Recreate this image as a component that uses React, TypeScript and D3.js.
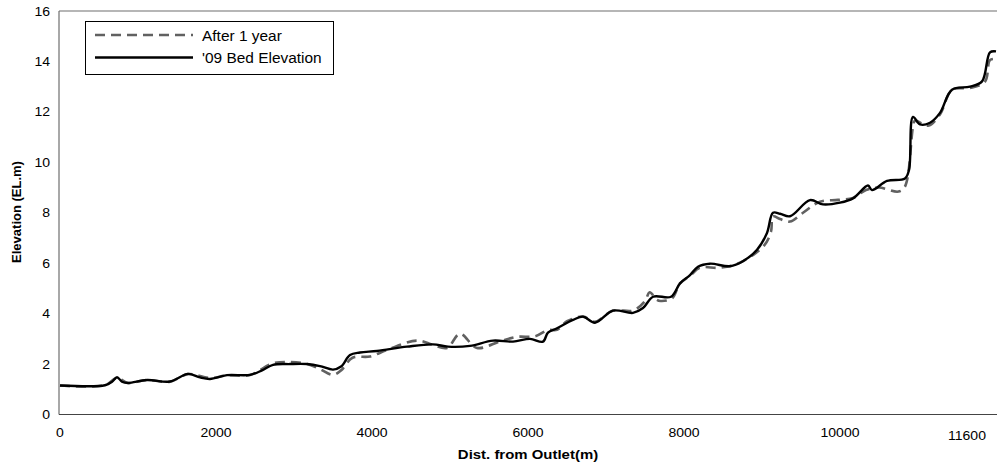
import React from "react";
import * as d3 from "d3";

const distBed = [0, 577, 667, 731, 795, 872, 1115, 1410, 1641, 1795, 1923, 2141, 2436, 2590, 2731, 2949, 3167, 3333, 3500, 3603, 3718, 3846, 4064, 4449, 4782, 4974, 5256, 5551, 5808, 6026, 6192, 6256, 6372, 6577, 6705, 6859, 7090, 7346, 7474, 7603, 7833, 7949, 8077, 8179, 8333, 8590, 8756, 8936, 9064, 9141, 9231, 9359, 9615, 9782, 10000, 10167, 10359, 10410, 10603, 10833, 10885, 10936, 11026, 11154, 11282, 11436, 11667, 11821, 11923, 12000];
const elevBed = [1.15, 1.16, 1.3, 1.48, 1.3, 1.25, 1.37, 1.31, 1.61, 1.47, 1.41, 1.56, 1.57, 1.75, 1.97, 2.0, 2.0, 1.92, 1.78, 1.9, 2.36, 2.46, 2.52, 2.69, 2.78, 2.69, 2.72, 2.93, 2.89, 3.0, 2.89, 3.25, 3.42, 3.75, 3.88, 3.64, 4.12, 4.03, 4.22, 4.67, 4.67, 5.2, 5.53, 5.86, 5.98, 5.88, 6.08, 6.53, 7.2, 8.0, 7.96, 7.86, 8.5, 8.33, 8.4, 8.57, 9.08, 8.9, 9.26, 9.36, 9.7, 11.8, 11.5, 11.57, 11.96, 12.88, 13.0, 13.21, 14.36, 14.4];

const distAfter = [0, 577, 731, 872, 1115, 1410, 1641, 1923, 2141, 2436, 2731, 2949, 3167, 3333, 3500, 3603, 3750, 3974, 4192, 4577, 4782, 4962, 5128, 5346, 5641, 5859, 6090, 6256, 6372, 6500, 6705, 6859, 7090, 7346, 7500, 7560, 7650, 7700, 7846, 7949, 8077, 8205, 8462, 8718, 9026, 9115, 9141, 9231, 9359, 9526, 9744, 9974, 10167, 10333, 10500, 10750, 10833, 10936, 10962, 11128, 11282, 11436, 11667, 11859, 11923, 12000];
const elevAfter = [1.15, 1.16, 1.45, 1.25, 1.37, 1.3, 1.6, 1.45, 1.55, 1.57, 2.03, 2.08, 2.0, 1.8, 1.57, 1.75, 2.25, 2.3, 2.56, 2.93, 2.76, 2.64, 3.2, 2.64, 2.9, 3.08, 3.1, 3.35, 3.36, 3.7, 3.88, 3.68, 4.12, 4.12, 4.5, 4.85, 4.55, 4.5, 4.6, 5.2, 5.5, 5.82, 5.82, 6.02, 6.7, 7.25, 7.85, 7.75, 7.65, 8.0, 8.44, 8.51, 8.59, 8.9, 9.0, 8.84, 9.04, 11.4, 11.65, 11.45, 11.9, 12.88, 12.95, 13.2, 14.05, 14.1];

const xTicks = [0, 2000, 4000, 6000, 8000, 10000];
const yTicks = [0, 2, 4, 6, 8, 10, 12, 14, 16];
const extraXLabel = "11600";
const seriesNames = ["After 1 year", "'09 Bed Elevation"];

const W = 997;
const H = 470;
const FONT = "'Liberation Sans', Arial, sans-serif";

function T({ x, y, sx = 1, anchor = "start", size, bold = false, children }: any) {
  return (
    <text
      transform={`translate(${x},${y}) scale(${sx},1)`}
      fontSize={size}
      fontWeight={bold ? "bold" : "normal"}
      textAnchor={anchor}
      fill="#000"
    >
      {children}
    </text>
  );
}

export default function App() {
  const x = d3.scaleLinear().domain([0, 12000]).range([60, 996]);
  const y = d3.scaleLinear().domain([0, 16]).range([414.5, 11]);
  const line = d3
    .line<[number, number]>()
    .x((d) => x(d[0]))
    .y((d) => y(d[1]))
    .curve(d3.curveCatmullRom.alpha(0.5));
  const bedPts = distBed.map((d, i) => [d, elevBed[i]] as [number, number]);
  const afterPts = distAfter.map((d, i) => [d, elevAfter[i]] as [number, number]);
  const left = 59;
  const right = 997;
  const top = y(16);
  const bottom = y(0);
  return (
    <svg
      width={W}
      height={H}
      style={{ position: "absolute", left: 0, top: 0, background: "#fff" }}
      fontFamily={FONT}
    >
      <defs>
        <clipPath id="plotclip">
          <rect x={left} y={0} width={right - left} height={bottom + 2} />
        </clipPath>
      </defs>
      <line x1={left} x2={right} y1={top} y2={top} stroke="#6e6e6e" strokeWidth={1.2} />
      <line x1={left} x2={left} y1={top} y2={bottom} stroke="#6e6e6e" strokeWidth={1.2} />
      <line x1={left} x2={right} y1={bottom} y2={bottom} stroke="#444" strokeWidth={1.2} />
      {yTicks.map((t) => (
        <T key={"y" + t} x={50} y={y(t) + 4.5} size={13} sx={1.08} anchor="end">
          {t}
        </T>
      ))}
      {xTicks.map((t) => (
        <T key={"x" + t} x={x(t)} y={437} size={13} sx={1.08} anchor="middle">
          {t}
        </T>
      ))}
      <T x={967} y={440} size={13} sx={1.08} anchor="middle">
        {extraXLabel}
      </T>
      <T x={528} y={459} size={13} sx={1.15} anchor="middle" bold>
        Dist. from Outlet(m)
      </T>
      <text
        transform={`translate(21,212) rotate(-90)`}
        fontSize={13}
        fontWeight="bold"
        textAnchor="middle"
      >
        Elevation (EL.m)
      </text>
      <g clipPath="url(#plotclip)">
        <path d={line(afterPts) || ""} fill="none" stroke="#616161" strokeWidth={2.6} strokeDasharray="10,6" />
        <path d={line(bedPts) || ""} fill="none" stroke="#000" strokeWidth={2.4} />
      </g>
      <rect x={85.5} y={21.5} width={248} height={53} fill="#fff" stroke="#000" strokeWidth={1} />
      <line x1={95} x2={193} y1={35} y2={35} stroke="#616161" strokeWidth={2.6} strokeDasharray="10,6" />
      <line x1={95} x2={193} y1={57.5} y2={57.5} stroke="#000" strokeWidth={2.4} />
      <T x={202} y={40.5} size={15} sx={1.03}>{seriesNames[0]}</T>
      <T x={202} y={63} size={15} sx={1.03}>{seriesNames[1]}</T>
    </svg>
  );
}
